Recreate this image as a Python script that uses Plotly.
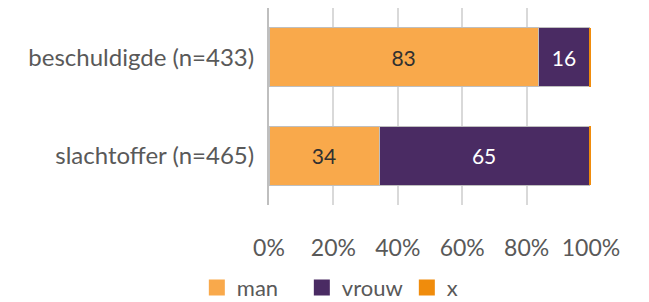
import plotly.graph_objects as go

categories = ["beschuldigde (n=433)", "slachtoffer (n=465)"]
man = [83.6, 34.2]
vrouw = [16.0, 65.2]
x_vals = [0.4, 0.6]
man_labels = ["83", "34"]
vrouw_labels = ["16", "65"]
tick_vals = [0, 20, 40, 60, 80, 100]
tick_text = ["0%", "20%", "40%", "60%", "80%", "100%"]

FONT = "Lato, 'Open Sans', sans-serif"
GREY = "#595959"
C_MAN, C_VROUW, C_X = "#F9A94B", "#4A2B63", "#F08C0C"

fig = go.Figure()
fig.add_trace(go.Bar(
    y=categories, x=man, name="man", orientation="h", showlegend=False,
    marker=dict(color=C_MAN, line=dict(color="#BFBFBF", width=1)),
    text=man_labels, textposition="inside", insidetextanchor="middle",
    textfont=dict(color="#303030", size=21, family=FONT),
    hoverinfo="skip",
))
fig.add_trace(go.Bar(
    y=categories, x=vrouw, name="vrouw", orientation="h", showlegend=False,
    marker=dict(color=C_VROUW, line=dict(color="#BFBFBF", width=1)),
    text=vrouw_labels, textposition="inside", insidetextanchor="middle",
    textfont=dict(color="white", size=21, family=FONT),
    hoverinfo="skip",
))
fig.add_trace(go.Bar(
    y=categories, x=x_vals, name="x", orientation="h", showlegend=False,
    marker=dict(color=C_X, line=dict(width=0)),
    texttemplate="", hoverinfo="skip",
))
# legend entries with larger square swatches
for nm, col in [("man", C_MAN), ("vrouw", C_VROUW), ("x", C_X)]:
    fig.add_trace(go.Scatter(
        x=[None], y=[None], mode="markers", name=nm,
        marker=dict(symbol="square", size=16, color=col),
        hoverinfo="skip",
    ))

fig.update_layout(
    barmode="stack",
    bargap=0.40,
    width=649, height=302,
    margin=dict(l=261, r=66, t=0, b=105),
    paper_bgcolor="white", plot_bgcolor="white",
    font=dict(family=FONT, size=22, color=GREY),
    uniformtext=dict(mode="show", minsize=10),
    legend=dict(orientation="h", x=0.265, xanchor="center",
                y=-0.42, yanchor="middle",
                font=dict(size=22, color=GREY, family=FONT), traceorder="normal",
                itemwidth=30, entrywidth=60, entrywidthmode="pixels"),
    xaxis=dict(range=[0, 100], tickvals=tick_vals, ticktext=tick_text,
               showgrid=True, gridcolor="#D9D9D9", gridwidth=1.5, zeroline=False,
               showline=False, ticks="outside", ticklen=22, tickcolor="rgba(0,0,0,0)",
               tickfont=dict(size=23, color=GREY, family=FONT), fixedrange=True),
    yaxis=dict(categoryorder="array", categoryarray=categories[::-1],
               showline=True, linecolor="#BFBFBF", linewidth=2,
               ticks="outside", ticklen=8, tickcolor="rgba(0,0,0,0)",
               tickfont=dict(size=24, color=GREY, family=FONT), showgrid=False,
               fixedrange=True),
)

fig.write_html("out.html")
